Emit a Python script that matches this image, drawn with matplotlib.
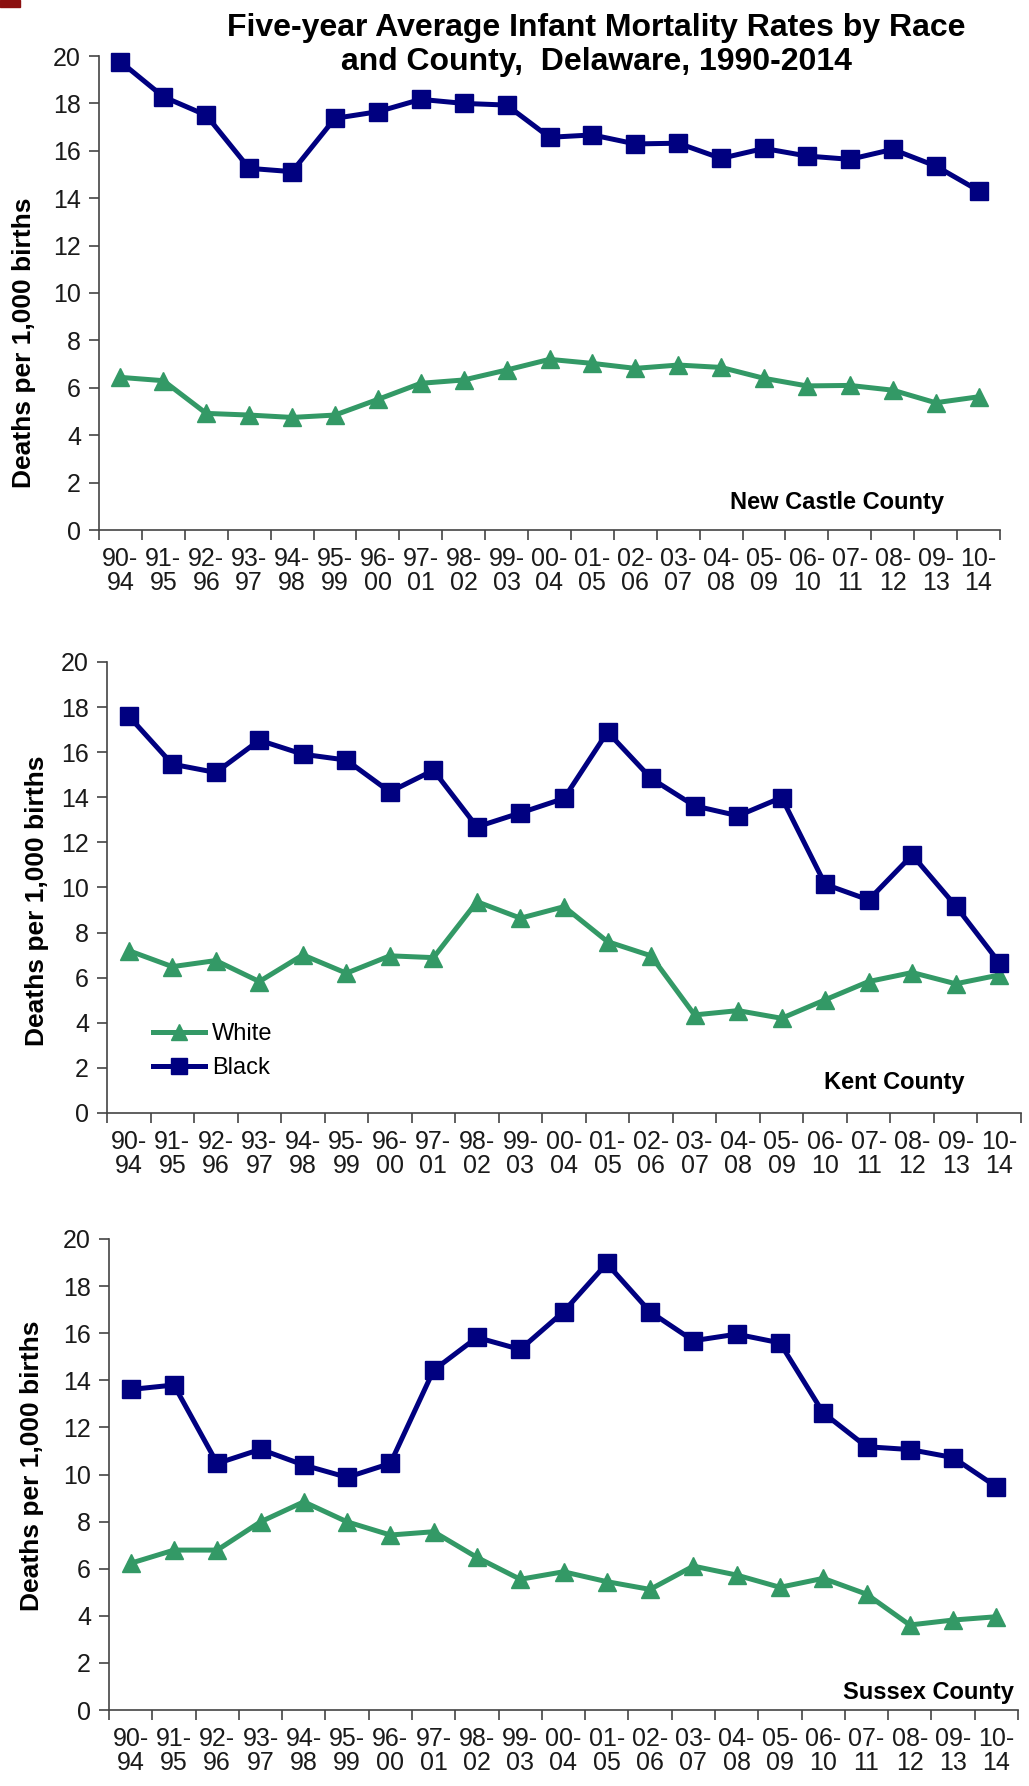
import matplotlib.pyplot as plt
from matplotlib.patches import Rectangle

periods = ["90-\n94", "91-\n95", "92-\n96", "93-\n97", "94-\n98", "95-\n99", "96-\n00",
           "97-\n01", "98-\n02", "99-\n03", "00-\n04", "01-\n05", "02-\n06", "03-\n07",
           "04-\n08", "05-\n09", "06-\n10", "07-\n11", "08-\n12", "09-\n13", "10-\n14"]

nc_white = [6.44, 6.30, 4.92, 4.85, 4.75, 4.85, 5.51, 6.19, 6.33, 6.75, 7.20,
            7.03, 6.82, 6.96, 6.86, 6.40, 6.08, 6.10, 5.90, 5.37, 5.62]
nc_black = [19.76, 18.28, 17.50, 15.26, 15.12, 17.37, 17.65, 18.17, 18.00, 17.93, 16.57,
            16.67, 16.29, 16.32, 15.68, 16.10, 15.78, 15.64, 16.06, 15.36, 14.32]

kent_white = [7.20, 6.49, 6.76, 5.83, 7.01, 6.20, 6.97, 6.89, 9.37, 8.64, 9.15,
              7.60, 6.97, 4.35, 4.54, 4.20, 5.02, 5.83, 6.23, 5.73, 6.12]
kent_black = [17.60, 15.47, 15.10, 16.53, 15.91, 15.65, 14.24, 15.20, 12.69, 13.31, 13.95,
              16.90, 14.84, 13.62, 13.18, 13.99, 10.14, 9.45, 11.44, 9.18, 6.67]

sx_white = [6.23, 6.79, 6.79, 7.99, 8.84, 7.99, 7.43, 7.57, 6.48, 5.55, 5.87,
            5.45, 5.12, 6.11, 5.73, 5.21, 5.59, 4.92, 3.61, 3.82, 3.96]
sx_black = [13.61, 13.80, 10.47, 11.07, 10.40, 9.88, 10.47, 14.43, 15.82, 15.31, 16.91,
            18.96, 16.91, 15.68, 15.96, 15.59, 12.62, 11.18, 11.06, 10.72, 9.48]

panels = [
    ("New Castle County", nc_white, nc_black),
    ("Kent County", kent_white, kent_black),
    ("Sussex County", sx_white, sx_black),
]

plt.rcParams['font.family'] = ['Liberation Sans', 'DejaVu Sans']

W, H = 1029, 1786
fig = plt.figure(figsize=(W / 100, H / 100), dpi=100)

# axes boxes in pixels: left, right, top, bottom
boxes = [(99, 1000, 56, 530), (107, 1021, 662, 1113), (109, 1018, 1239, 1710)]
ylabel_pos = [(24, 343), (37, 901), (32, 1466)]
county_pos = [(944, 503), (965, 1082), (1014, 1693)]

green = "#339966"
navy = "#000080"
x = list(range(len(periods)))

for i, (name, white, black) in enumerate(panels):
    l, r, t, b = boxes[i]
    ax = fig.add_axes([l / W, 1 - b / H, (r - l) / W, (b - t) / H])
    ax.plot(x, white, color=green, lw=3.6, marker="^", ms=13.5, label="White",
            clip_on=False)
    ax.plot(x, black, color=navy, lw=3.6, marker="s", ms=13, label="Black",
            clip_on=False)

    ax.set_xlim(-0.5, len(periods) - 0.5)
    ax.set_ylim(0, 20)
    ax.set_yticks(range(0, 21, 2))
    ax.set_xticks([k - 0.5 for k in range(len(periods) + 1)])
    ax.set_xticklabels([])
    ax.set_xticks(x, minor=True)
    ax.set_xticklabels(periods, minor=True)
    ax.tick_params(axis="x", which="major", length=7, width=1.2, color="#444444")
    ax.tick_params(axis="x", which="minor", length=0, pad=12, labelsize=18,
                   labelcolor="#1a1a1a")
    ax.tick_params(axis="y", length=7, width=1.2, color="#444444", pad=6,
                   labelsize=18, labelcolor="#1a1a1a")
    for lbl in ax.get_xticklabels(minor=True):
        lbl.set_linespacing(1.0)

    for s in ["top", "right"]:
        ax.spines[s].set_visible(False)
    for s in ["left", "bottom"]:
        ax.spines[s].set_color("#444444")
        ax.spines[s].set_linewidth(1.2)

    ax.set_ylabel("Deaths per 1,000 births", fontsize=19, fontweight="bold")
    lx, ly = ylabel_pos[i]
    ax.yaxis.set_label_coords((lx - l) / (r - l), (b - ly) / (b - t))
    ax.yaxis.label.set_verticalalignment("center")

    cx, cy = county_pos[i]
    ax.text((cx - l) / (r - l), (b - cy) / (b - t), name, transform=ax.transAxes,
            ha="right", va="center", fontsize=17, fontweight="bold")

    if i == 1:
        ax.legend(loc="upper left", bbox_to_anchor=((153 - l) / (r - l), (b - 1023) / (b - t)),
                  frameon=False, fontsize=17, handlelength=2.2, handletextpad=0.3,
                  labelspacing=0.5, borderpad=0, borderaxespad=0, markerscale=0.85)

fig.text(596 / W, 1 - 45 / H,
         "Five-year Average Infant Mortality Rates by Race\nand County,  Delaware, 1990-2014",
         ha="center", va="center", fontsize=23, fontweight="bold", linespacing=1.2)

fig.patches.append(Rectangle((0, 1 - 7 / H), 20 / W, 7 / H, transform=fig.transFigure,
                             color="#8b1010", figure=fig))

fig.savefig("out.png", dpi=100)
